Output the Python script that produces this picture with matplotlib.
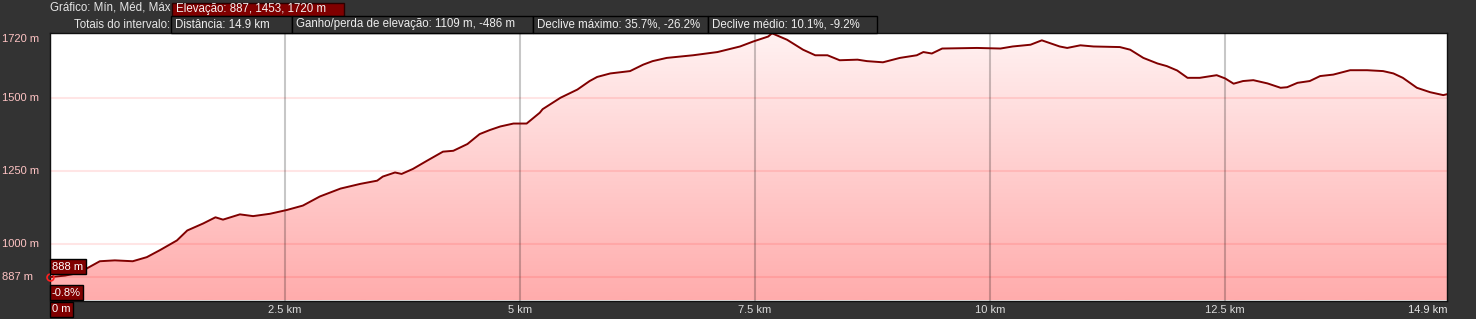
import matplotlib
matplotlib.use('Agg')
import matplotlib.pyplot as plt
import matplotlib.transforms as mtransforms
from matplotlib.patches import Rectangle, Polygon
import numpy as np

plt.rcParams['font.family'] = ['Liberation Sans', 'DejaVu Sans']

# ---------------- data ----------------
distance_km = [0.00, 0.16, 0.32, 0.40, 0.53, 0.69, 0.88, 1.03, 1.17, 1.35, 1.46, 1.63, 1.76, 1.84,
               2.02, 2.16, 2.34, 2.52, 2.69, 2.87, 3.09, 3.30, 3.48, 3.54, 3.67, 3.74, 3.86, 4.01,
               4.18, 4.29, 4.44, 4.57, 4.68, 4.79, 4.93, 5.07, 5.21, 5.24, 5.43, 5.61, 5.74, 5.82,
               5.96, 6.17, 6.31, 6.41, 6.56, 6.84, 7.10, 7.34, 7.48, 7.64, 7.68, 7.84, 8.01, 8.14,
               8.27, 8.40, 8.59, 8.69, 8.86, 9.04, 9.22, 9.29, 9.38, 9.49, 9.86, 10.11, 10.24, 10.43,
               10.55, 10.74, 10.82, 10.96, 11.10, 11.38, 11.49, 11.63, 11.78, 11.88, 11.99, 12.10,
               12.23, 12.41, 12.50, 12.59, 12.69, 12.80, 12.95, 13.09, 13.16, 13.27, 13.40, 13.51,
               13.65, 13.83, 14.01, 14.18, 14.29, 14.39, 14.54, 14.68, 14.82, 14.86]
elevation_m = [888, 893, 903, 919, 942, 945, 942, 956, 980, 1013, 1047, 1071, 1092, 1084,
               1102, 1096, 1104, 1117, 1132, 1163, 1190, 1206, 1217, 1231, 1245, 1240, 1257, 1285,
               1316, 1319, 1342, 1376, 1390, 1402, 1412, 1412, 1449, 1461, 1500, 1528, 1557, 1571,
               1583, 1591, 1613, 1625, 1636, 1645, 1656, 1675, 1692, 1709, 1720, 1698, 1664, 1645,
               1645, 1628, 1630, 1625, 1621, 1636, 1645, 1656, 1651, 1668, 1670, 1668, 1675, 1681,
               1696, 1675, 1670, 1679, 1675, 1673, 1664, 1636, 1617, 1608, 1593, 1568,
               1568, 1577, 1566, 1548, 1557, 1560, 1549, 1534, 1536, 1551, 1557, 1574,
               1579, 1594, 1594, 1591, 1583, 1568, 1534, 1519, 1509, 1512]

y_ticks = [887, 1000, 1250, 1500, 1720]
y_tick_labels = ['887 m', '1000 m', '1250 m', '1500 m', '1720 m']
x_ticks = [2.5, 5, 7.5, 10, 12.5]
x_tick_labels = ['2.5 km', '5 km', '7.5 km', '10 km', '12.5 km']
x_end_label = '14.9 km'
x_start_label = '0 m'
start_elev_label = '888 m'
start_grade_label = '-0.8%'

row1_label = 'Gráfico: Mín, Méd, Máx'
row1_box = 'Elevação: 887, 1453, 1720 m'
row2_label = 'Totais do intervalo:'
row2_boxes = ['Distância: 14.9 km', 'Ganho/perda de elevação: 1109 m, -486 m',
              'Declive máximo: 35.7%, -26.2%', 'Declive médio: 10.1%, -9.2%']

# ---------------- layout ----------------
W, H = 1476, 319
BG = '#333333'
DARKRED = '#800000'
fig = plt.figure(figsize=(W / 100, H / 100), dpi=100, facecolor=BG)

L, R, T, B = 50, 1447, 33, 300.5
ax = fig.add_axes([L / W, 1 - B / H, (R - L) / W, (B - T) / H])
ax.set_facecolor('white')
xmax = 14.86
ymin, ymax = 808, 1721
ax.set_xlim(0, xmax)
ax.set_ylim(ymin, ymax)
ax.set_xticks([])
ax.set_yticks([])
for s in ax.spines.values():
    s.set_color('#111111')
    s.set_linewidth(1.0)

# gradient fill under the profile
top_c = np.array([255, 242, 242]) / 255
bot_c = np.array([255, 172, 172]) / 255
t = np.linspace(0, 1, 256)[:, None, None]
grad = top_c[None, None, :] * (1 - t) + bot_c[None, None, :] * t
im = ax.imshow(grad, extent=[0, xmax, ymin, ymax], aspect='auto', origin='upper',
               zorder=1, interpolation='bilinear')
verts = [(distance_km[0], ymin)] + list(zip(distance_km, elevation_m)) + [(distance_km[-1], ymin)]
poly = Polygon(verts, closed=True, transform=ax.transData, facecolor='none', edgecolor='none')
ax.add_patch(poly)
im.set_clip_path(poly)

# grid lines
for v in y_ticks[:-1]:
    ax.axhline(v, color=(1, 0, 0, 0.10), lw=1.5, zorder=2)
for v in x_ticks:
    ax.axvline(v, color=(0, 0, 0, 0.22), lw=1.5, zorder=3)

# profile line
ax.plot(distance_km, elevation_m, color=DARKRED, lw=1.4, zorder=4, solid_joinstyle='round')
ax.plot([distance_km[0]], [887], marker='o', ms=5, mfc='none', mec='#ff2020', mew=1.2,
        zorder=6, clip_on=False)

# y labels
ytr = mtransforms.blended_transform_factory(fig.transFigure, ax.transData)
for v, lab in zip(y_ticks, y_tick_labels):
    va = 'top' if v == max(y_ticks) else 'center'
    yy = v - 3 if v == max(y_ticks) else v
    ax.text(2 / W, yy, lab, transform=ytr, ha='left', va=va, color='#ffc4c4', fontsize=8)

# x labels
xtr = mtransforms.blended_transform_factory(ax.transData, fig.transFigure)
for v, lab in zip(x_ticks, x_tick_labels):
    ax.text(v, 1 - 310 / H, lab, transform=xtr, ha='center', va='center',
            color='#dcdcdc', fontsize=8)
ax.text(xmax, 1 - 310 / H, x_end_label, transform=xtr, ha='right', va='center',
        color='#e6e6e6', fontsize=8)


def pbox(x0, y0, x1, y1, fc, ec, text=None, tcolor='white', fs=8, pad=4):
    fig.patches.append(Rectangle((x0 / W, 1 - y1 / H), (x1 - x0) / W, (y1 - y0) / H,
                                 transform=fig.transFigure, facecolor=fc, edgecolor=ec,
                                 lw=1.0, zorder=10))
    if text is not None:
        fig.text((x0 + pad) / W, 1 - ((y0 + y1) / 2) / H, text, ha='left', va='center',
                 color=tcolor, fontsize=fs, zorder=11)


# start labels
pbox(50, 259, 86, 274, DARKRED, '#000000', start_elev_label, fs=8, pad=2)
pbox(49.5, 285, 83, 300, DARKRED, '#000000', start_grade_label, fs=8, pad=2)
pbox(49.5, 302, 73, 317, DARKRED, '#000000', x_start_label, fs=8, pad=2)

# header
fig.text(170 / W, 1 - 8 / H, row1_label, ha='right', va='center', color='#e6e6e6', fontsize=8.3)
pbox(172, 2.5, 344, 15.5, DARKRED, '#2a0000', row1_box, tcolor='#f2f2f2', fs=8.3, pad=4)
fig.text(170 / W, 1 - 24.5 / H, row2_label, ha='right', va='center', color='#e6e6e6', fontsize=8.3)
edges = [171, 292, 533, 708, 877]
for i, lab in enumerate(row2_boxes):
    pbox(edges[i], 16.5, edges[i + 1], 32.5, BG, '#000000', lab, tcolor='#eeeeee', fs=8.3, pad=4)

fig.savefig('out.png', dpi=100, facecolor=BG)
